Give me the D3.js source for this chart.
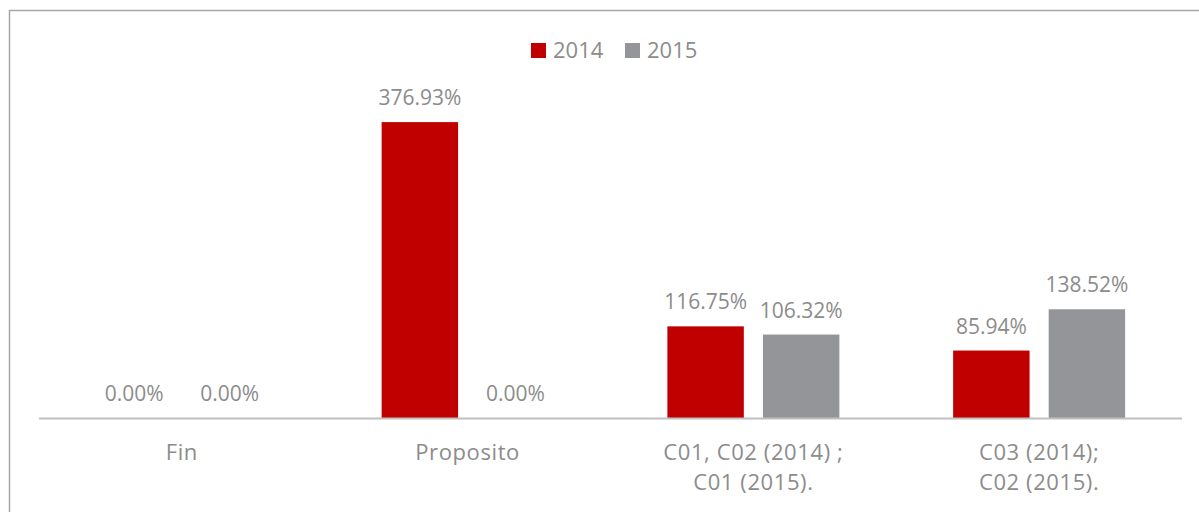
<!DOCTYPE html>
<html>
<head>
<meta charset="utf-8">
<script src="https://cdn.jsdelivr.net/npm/d3@7"></script>
<style>
  body { margin: 0; background: #fff; }
  text { font-family: "Open Sans", Lato, sans-serif; }
</style>
</head>
<body>
<svg id="chart" width="1199" height="512"></svg>
<script>
var categories = ["Fin", "Proposito", "C01, C02 (2014) ;|C01 (2015).", "C03 (2014);|C02 (2015)."];
var series = ["2014", "2015"];
var values2014 = [0.00, 376.93, 116.75, 85.94];
var values2015 = [0.00, 0.00, 106.32, 138.52];

var width = 1199,
    height = 512,
    plot = {left: 39, right: 1182, baseline: 418, top: 104};

var color = d3.scaleOrdinal()
              .domain(series)
              .range(["#c00000", "#939598"]);

var textColor = "#8c8c8c";

var data = categories.map(function(c, i) {
  return {cat: c, vals: [{key: "2014", v: values2014[i]}, {key: "2015", v: values2015[i]}]};
});

var svg = d3.select("#chart");

// outer frame
svg.append("path")
   .attr("d", "M9.5," + height + "V10.5H" + width)
   .attr("fill", "none")
   .attr("stroke", "#a6a6a6")
   .attr("stroke-width", 1.5);

var x0 = d3.scaleBand()
           .domain(categories)
           .range([plot.left, plot.right])
           .padding(0);

var x1 = d3.scaleBand()
           .domain(series)
           .range([-86, 86])
           .paddingInner(0.2);

var y = d3.scaleLinear()
          .domain([0, 400])
          .range([plot.baseline, plot.top]);

var groups = svg.selectAll("g.group")
                .data(data)
                .enter().append("g")
                .attr("class", "group")
                .attr("transform", function(d) { return "translate(" + (x0(d.cat) + x0.bandwidth()/2) + ",0)"; });

groups.selectAll("rect")
      .data(function(d) { return d.vals; })
      .enter().append("rect")
      .attr("x", function(d) { return x1(d.key); })
      .attr("width", x1.bandwidth())
      .attr("y", function(d) { return y(d.v); })
      .attr("height", function(d) { return y(0) - y(d.v); })
      .attr("fill", function(d) { return color(d.key); });

groups.selectAll("text.val")
      .data(function(d) { return d.vals; })
      .enter().append("text")
      .attr("class", "val")
      .attr("x", function(d) { return x1(d.key) + x1.bandwidth()/2; })
      .attr("y", function(d) { return y(d.v) - 17; })
      .attr("text-anchor", "middle")
      .attr("font-size", 21)
      .attr("fill", textColor)
      .text(function(d) { return d.v.toFixed(2) + "%"; });

// baseline
svg.append("line")
   .attr("x1", plot.left).attr("x2", plot.right)
   .attr("y1", plot.baseline + 0.5).attr("y2", plot.baseline + 0.5)
   .attr("stroke", "#bfbfbf")
   .attr("stroke-width", 2);

// category labels
var catLabels = svg.selectAll("text.cat")
   .data(categories)
   .enter().append("text")
   .attr("class", "cat")
   .attr("text-anchor", "middle")
   .attr("font-size", 22)
   .attr("letter-spacing", 0.6)
   .attr("fill", textColor)
   .attr("x", function(d) { return x0(d) + x0.bandwidth()/2; })
   .attr("y", 460);

catLabels.selectAll("tspan")
   .data(function(d) { return d.split("|"); })
   .enter().append("tspan")
   .attr("x", function() { return d3.select(this.parentNode).attr("x"); })
   .attr("dy", function(d, i) { return i === 0 ? 0 : 30; })
   .text(function(d) { return d; });

// legend
var legend = svg.append("g").attr("transform", "translate(531,0)");
var items = legend.selectAll("g")
   .data(series)
   .enter().append("g")
   .attr("transform", function(d, i) { return "translate(" + (i * 94) + ",0)"; });
items.append("rect")
   .attr("x", 0).attr("y", 43)
   .attr("width", 15).attr("height", 15)
   .attr("fill", function(d) { return color(d); });
items.append("text")
   .attr("x", 22).attr("y", 58)
   .attr("font-size", 22)
   .attr("fill", textColor)
   .text(function(d) { return d; });
</script>
</body>
</html>
